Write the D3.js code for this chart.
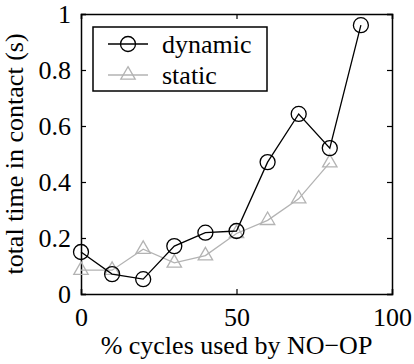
<!DOCTYPE html>
<html>
<head>
<meta charset="utf-8">
<script src="https://cdn.jsdelivr.net/npm/d3@7"></script>
<style>body{margin:0}</style>
</head>
<body>
<script>
// data
const cycles = [0, 10, 20, 30, 40, 50, 60, 70, 80, 90];
const dynamicTime = [0.150, 0.071, 0.053, 0.171, 0.219, 0.225, 0.471, 0.643, 0.521, 0.960];
const staticCycles = [0, 10, 20, 30, 40, 50, 60, 70, 80];
const staticTime = [0.085, 0.085, 0.160, 0.111, 0.137, 0.216, 0.263, 0.340, 0.469];
const xTicks = [0, 50, 100];
const yTicks = [0, 0.2, 0.4, 0.6, 0.8, 1];

const width = 414;
const height = 364;
const margin = {left: 81, right: 22, top: 14, bottom: 70};
const grey = '#b3b3b3';
const font = 'Liberation Serif';

const svg = d3.select('body').append('svg')
  .attr('width', width)
  .attr('height', height)
  .style('font-family', `"${font}"`, 'important');

const x = d3.scaleLinear().domain([0, 100]).range([margin.left, width - margin.right]);
const y = d3.scaleLinear().domain([0, 1]).range([height - margin.bottom, margin.top]);

// plain text helper, font set on every label
function label(sel) {
  return sel.attr('font-family', font)
    .style('font-family', `"${font}"`, 'important')
    .style('font-size', '26px', 'important')
    .attr('fill', '#000');
}

// axis titles
label(svg.append('text'))
  .attr('x', (x(0) + x(100)) / 2)
  .attr('y', 354)
  .attr('text-anchor', 'middle')
  .text('% cycles used by NO\u2212OP');
label(svg.append('text'))
  .attr('transform', `translate(23,${(y(0) + y(1)) / 2}) rotate(-90)`)
  .attr('text-anchor', 'middle')
  .text('total time in contact (s)');

// axes, ticks pointing inward on all four sides
const tickLen = 5;
svg.append('g')
  .attr('transform', `translate(0,${y(0)})`)
  .call(d3.axisBottom(x).tickValues(xTicks).tickSize(-tickLen).tickPadding(14).tickFormat(d3.format('d')))
  .call(g => g.selectAll('text').attr('dy', '0.71em'));
svg.append('g')
  .attr('transform', `translate(0,${y(1)})`)
  .call(d3.axisTop(x).tickValues(xTicks).tickSize(-tickLen).tickFormat(''));
svg.append('g')
  .attr('transform', `translate(${x(0)},0)`)
  .call(d3.axisLeft(y).tickValues(yTicks).tickSize(-tickLen).tickPadding(10).tickFormat(d => d === 0 || d === 1 ? d : d3.format('.1f')(d)));
svg.append('g')
  .attr('transform', `translate(${x(100)},0)`)
  .call(d3.axisRight(y).tickValues(yTicks).tickSize(-tickLen).tickFormat(''));

svg.selectAll('g').attr('font-family', font).attr('font-size', 26);
svg.selectAll('.domain').attr('stroke', '#000').attr('stroke-width', 1.5);
svg.selectAll('.tick line').attr('stroke', '#000').attr('stroke-width', 1.2);
label(svg.selectAll('.tick text'));

const line = d3.line().x(d => x(d[0])).y(d => y(d[1]));
const tri = d3.symbol().type(d3.symbolTriangle).size(90);

// static series (grey triangles)
const staticPts = staticCycles.map((c, i) => [c, staticTime[i]]);
svg.append('path')
  .attr('d', line(staticPts))
  .attr('fill', 'none')
  .attr('stroke', grey)
  .attr('stroke-width', 1.3);
svg.selectAll('.tri')
  .data(staticPts)
  .enter()
  .append('path')
  .attr('d', tri)
  .attr('transform', d => `translate(${x(d[0])},${y(d[1])})`)
  .attr('fill', 'none')
  .attr('stroke', grey)
  .attr('stroke-width', 1.3);

// dynamic series (black circles)
const dynPts = cycles.map((c, i) => [c, dynamicTime[i]]);
svg.append('path')
  .attr('d', line(dynPts))
  .attr('fill', 'none')
  .attr('stroke', '#000')
  .attr('stroke-width', 1.3);
svg.selectAll('.circ')
  .data(dynPts)
  .enter()
  .append('circle')
  .attr('cx', d => x(d[0]))
  .attr('cy', d => y(d[1]))
  .attr('r', 7.5)
  .attr('fill', 'none')
  .attr('stroke', '#000')
  .attr('stroke-width', 1.3);

// legend
const legend = svg.append('g');
legend.append('rect')
  .attr('x', 93).attr('y', 27)
  .attr('width', 174).attr('height', 64)
  .attr('fill', '#fff')
  .attr('stroke', '#000')
  .attr('stroke-width', 1.5);
const items = [
  {name: 'dynamic', color: '#000', sym: 'circle', cy: 44},
  {name: 'static', color: grey, sym: 'tri', cy: 75}
];
items.forEach(it => {
  legend.append('line')
    .attr('x1', 108).attr('x2', 148)
    .attr('y1', it.cy).attr('y2', it.cy)
    .attr('stroke', it.color).attr('stroke-width', 1.3);
  if (it.sym === 'circle') {
    legend.append('circle')
      .attr('cx', 128).attr('cy', it.cy).attr('r', 7.5)
      .attr('fill', 'none').attr('stroke', it.color).attr('stroke-width', 1.3);
  } else {
    legend.append('path')
      .attr('d', tri)
      .attr('transform', `translate(128,${it.cy})`)
      .attr('fill', 'none').attr('stroke', it.color).attr('stroke-width', 1.3);
  }
  label(legend.append('text'))
    .attr('x', 162)
    .attr('y', it.cy + 9)
    .text(it.name);
});
</script>
</body>
</html>
